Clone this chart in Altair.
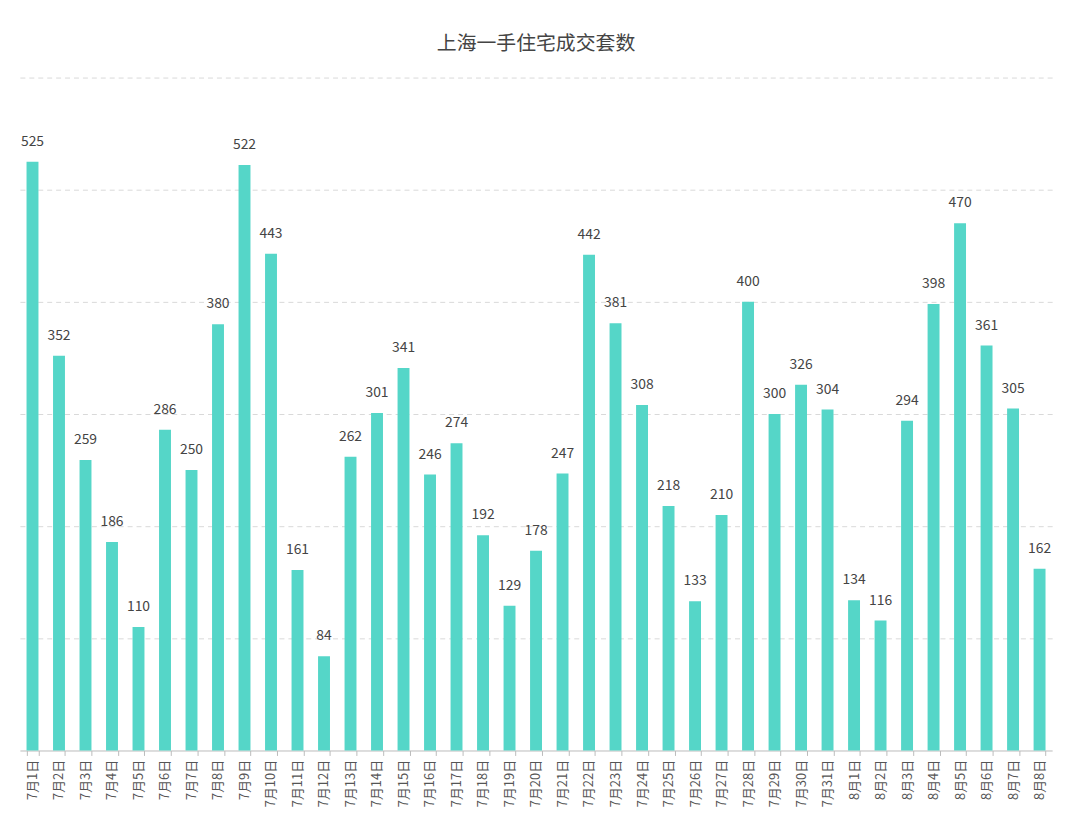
import altair as alt
import pandas as pd

dates = [f"7月{i}日" for i in range(1, 32)] + [f"8月{i}日" for i in range(1, 9)]
values = [525, 352, 259, 186, 110, 286, 250, 380, 522, 443, 161, 84, 262, 301, 341, 246, 274, 192, 129, 178, 247, 442, 381, 308, 218, 133, 210, 400, 300, 326, 304, 134, 116, 294, 398, 470, 361, 305, 162]

df = pd.DataFrame({"date": dates, "value": values})
font = "Noto Sans CJK SC"

base = alt.Chart(df).encode(
    x=alt.X("date:N", sort=dates, title=None,
            scale=alt.Scale(paddingInner=0.55, paddingOuter=0.25),
            axis=alt.Axis(labelAngle=270, labelAlign="right", labelBaseline="middle",
                          labelFontSize=13, labelColor="#555", labelFont=font,
                          domainColor="#bbb", tickColor="#bbb", tickBand="extent", labelPadding=4)),
    y=alt.Y("value:Q", scale=alt.Scale(domain=[0, 600]), title=None,
            axis=alt.Axis(labels=False, ticks=False, domain=False,
                          gridDash=[5, 4], gridColor="#d9d9d9", values=[100, 200, 300, 400, 500, 600])),
)

bars = base.mark_bar(color="#55d6c8")
labels = base.mark_text(dy=-20, fontSize=14, color="#444", font=font).encode(text="value:Q")

chart = (bars + labels).properties(
    width=1040, height=678,
    autosize=alt.AutoSizeParams(type="none"),
    padding={"left": 12, "top": 67, "right": 20, "bottom": 73},
    title=alt.TitleParams("上海一手住宅成交套数", fontSize=20, font=font, color="#444",
                          fontWeight="normal", offset=24),
).configure_view(stroke=None)

chart.save("out.html", embed_options={"renderer": "svg", "actions": False})
